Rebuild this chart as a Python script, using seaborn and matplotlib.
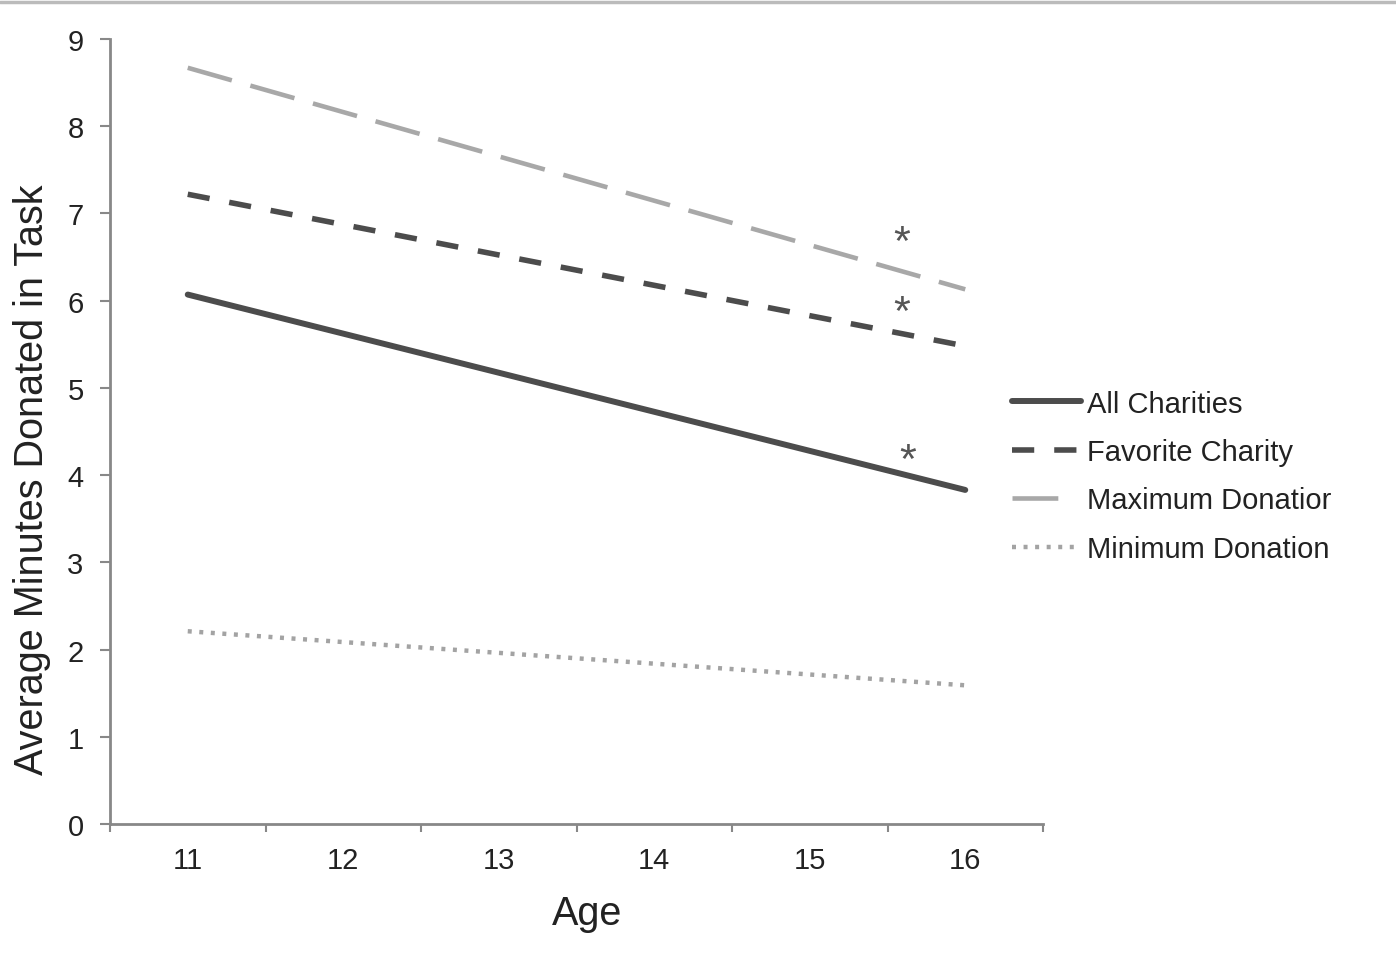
import pandas as pd
import matplotlib.pyplot as plt
import seaborn as sns
from matplotlib.lines import Line2D

# Dados (linhas de tendência, idade 11 a 16)
ages = [11, 16]
all_charities = [6.07, 3.83]
favorite_charity = [7.22, 5.48]
maximum_donation = [8.67, 6.13]
minimum_donation = [2.21, 1.59]
age_ticks = [11, 12, 13, 14, 15, 16]
star_points = [(15.59, 6.75), (15.59, 5.94), (15.63, 4.24)]

series = [
    ('All Charities', all_charities, '#4c4c4c', 4.3, '-'),
    ('Favorite Charity', favorite_charity, '#4c4c4c', 4.0, (0, (4.0, 3.6))),
    ('Maximum Donatior', maximum_donation, '#a8a8a8', 3.3, (0, (10.0, 4.2))),
    ('Minimum Donation', minimum_donation, '#a3a3a3', 3.2, (0, (0.9, 1.7))),
]

sns.set_theme(style='white')
plt.rcParams['font.family'] = ['Liberation Sans', 'DejaVu Sans']

fig = plt.figure(figsize=(13.96, 9.54), dpi=100)
ax = fig.add_axes([110 / 1396, 129 / 954, 933 / 1396, 785 / 954])

for name, vals, color, lw, ls in series:
    df = pd.DataFrame({'age': ages, 'value': vals})
    sns.lineplot(data=df, x='age', y='value', ax=ax, color=color,
                 linewidth=lw, linestyle=ls, label=name)

# Asteriscos de significância
for x, y in star_points:
    ax.text(x, y - 0.21, '*', fontsize=31, color='#555555', ha='center', va='baseline')

ax.set_xlim(10.5, 16.5)
ax.set_ylim(0, 9)
ax.set_yticks(range(0, 10))
ax.set_xticks([10.5 + i for i in range(7)])
ax.set_xticks(age_ticks, minor=True)
ax.set_xticklabels([])
ax.set_xticklabels([str(a) for a in age_ticks], minor=True)
ax.tick_params(axis='x', which='major', direction='out', length=6, width=1.5,
               color='#888888', bottom=True)
ax.tick_params(axis='x', which='minor', length=0, pad=16, labelsize=21,
               labelcolor='#222222', bottom=True)
ax.tick_params(axis='y', direction='out', length=7, width=1.5, color='#888888',
               left=True, labelsize=21, labelcolor='#222222', pad=12)

sns.despine(ax=ax)
for side in ['left', 'bottom']:
    ax.spines[side].set_color('#888888')
    ax.spines[side].set_linewidth(2)

ax.set_xlabel('Age', fontsize=28.5, color='#222222', labelpad=14)
ax.set_ylabel('Average Minutes Donated in Task', fontsize=28.5, color='#222222', labelpad=12)
ax.xaxis.label.set_x(0.511)
ax.yaxis.label.set_y(0.44)

leg = ax.legend(loc='center left', bbox_to_anchor=(0.967, 0.443), frameon=False,
                borderpad=0, borderaxespad=0,
                fontsize=21, handlelength=2.35, handletextpad=0.2, labelspacing=0.7,
                labelcolor='#222222')
# Na legenda, o traço longo aparece só uma vez
leg.get_lines()[2].set_linestyle((0, (10.0, 20.0)))

# Linha cinza no topo da figura
fig.add_artist(Line2D([0, 1], [0.9965, 0.9965], color='#bbbbbb', linewidth=2.5,
                      transform=fig.transFigure))

fig.savefig('out.png', dpi=100)
